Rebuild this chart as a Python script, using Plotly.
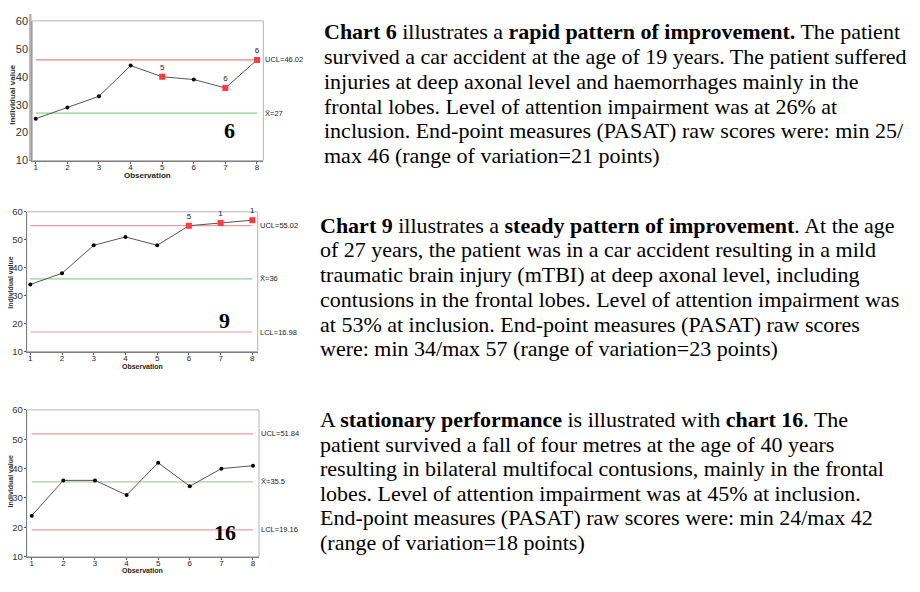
import plotly.graph_objects as go

# page offset of the plot div (browser body margin) and figure size
OFF = 8
W, H = 920 - 2 * OFF, 592 - 2 * OFF

# ---------------- data ----------------
observations = [1, 2, 3, 4, 5, 6, 7, 8]

c6_values = [25, 29, 33, 44, 40, 39, 36, 46]
c6_flags = [None, None, None, None, "5", None, "6", "6"]
c6_ucl, c6_mean, c6_lcl = 46.02, 27, None
c6_labels = ["UCL=46.02", "X\u0304=27", None]
c6_number = "6"

c9_values = [34, 38, 48, 51, 48, 55, 56, 57]
c9_flags = [None, None, None, None, None, "5", "1", "1"]
c9_ucl, c9_mean, c9_lcl = 55.02, 36, 16.98
c9_labels = ["UCL=55.02", "X\u0304=36", "LCL=16.98"]
c9_number = "9"

c16_values = [24, 36, 36, 31, 42, 34, 40, 41]
c16_flags = [None] * 8
c16_ucl, c16_mean, c16_lcl = 51.84, 35.5, 19.16
c16_labels = ["UCL=51.84", "X\u0304=35.5", "LCL=19.16"]
c16_number = "16"

y_ticks = [10, 20, 30, 40, 50, 60]

text6 = [
    "<b>Chart 6</b> illustrates a <b>rapid pattern of improvement.</b> The patient",
    "survived a car accident at the age of 19 years. The patient suffered",
    "injuries at deep axonal level and haemorrhages mainly in the",
    "frontal lobes. Level of attention impairment was at 26% at",
    "inclusion. End-point measures (PASAT) raw scores were: min 25/",
    "max 46 (range of variation=21 points)",
]
text9 = [
    "<b>Chart 9</b> illustrates a <b>steady pattern of improvement</b>. At the age",
    "of 27 years, the patient was in a car accident resulting in a mild",
    "traumatic brain injury (mTBI) at deep axonal level, including",
    "contusions in the frontal lobes. Level of attention impairment was",
    "at 53% at inclusion. End-point measures (PASAT) raw scores",
    "were: min 34/max 57 (range of variation=23 points)",
]
text16 = [
    "A <b>stationary performance</b> is illustrated with <b>chart 16</b>. The",
    "patient survived a fall of four metres at the age of 40 years",
    "resulting in bilateral multifocal contusions, mainly in the frontal",
    "lobes. Level of attention impairment was at 45% at inclusion.",
    "End-point measures (PASAT) raw scores were: min 24/max 42",
    "(range of variation=18 points)",
]

# ---------------- layout helpers (page pixels -> paper) ----------------
def px_x(x):
    return (x - OFF) / W

def px_y(y):
    return 1 - (y - OFF) / H

charts = [
    dict(values=c6_values, flags=c6_flags, ucl=c6_ucl, mean=c6_mean, lcl=c6_lcl,
         labels=c6_labels, number=c6_number,
         box=(32.3, 263.3, 15.0, 157.7), xr=[0.89, 8.2], tickfs=11, titlefs=8,
         ylab=(12.5, 90), obs_y=172.7, mean_color="#86d686", ucl_color="#f08282",
         num_pos=(0.852, 0.215)),
    dict(values=c9_values, flags=c9_flags, ucl=c9_ucl, mean=c9_mean, lcl=c9_lcl,
         labels=c9_labels, number=c9_number,
         box=(26.7, 257.7, 210.0, 352.7), xr=[0.886, 8.17], tickfs=9.5, titlefs=7,
         ylab=(10.5, 282), obs_y=368.3, mean_color="#8ad88a", ucl_color="#f29a9a",
         num_pos=(0.858, 0.222)),
    dict(values=c16_values, flags=c16_flags, ucl=c16_ucl, mean=c16_mean, lcl=c16_lcl,
         labels=c16_labels, number=c16_number,
         box=(26.7, 259.0, 412.3, 562.3), xr=[0.84, 8.19], tickfs=9.5, titlefs=7,
         ylab=(10.5, 485), obs_y=576.7, mean_color="#a9cfa0", ucl_color="#f29a9a",
         num_pos=(0.854, 0.164)),
]

fig = go.Figure()
annotations = []
shapes = []

for i, c in enumerate(charts, start=1):
    xa = "x" if i == 1 else f"x{i}"
    ya = "y" if i == 1 else f"y{i}"
    xl, xr_, yt, yb = c["box"]

    # control lines
    for val, col in ((c["ucl"], c["ucl_color"]), (c["mean"], c["mean_color"]),
                     (c["lcl"], c["ucl_color"])):
        if val is None:
            continue
        fig.add_trace(go.Scatter(x=[observations[0], observations[-1]], y=[val, val],
                                 mode="lines", line=dict(color=col, width=1.2),
                                 xaxis=xa, yaxis=ya, hoverinfo="skip", showlegend=False))
    # data line
    fig.add_trace(go.Scatter(x=observations, y=c["values"], mode="lines+markers",
                             line=dict(color="#555555", width=1),
                             marker=dict(color="black", size=4),
                             xaxis=xa, yaxis=ya, showlegend=False))
    # flagged points
    fx = [o for o, f in zip(observations, c["flags"]) if f]
    fy = [v for v, f in zip(c["values"], c["flags"]) if f]
    ft = [f for f in c["flags"] if f]
    if fx:
        fig.add_trace(go.Scatter(x=fx, y=fy, mode="markers+text", text=ft,
                                 textposition="top center", cliponaxis=False,
                                 textfont=dict(family="Liberation Sans", size=8, color="#222"),
                                 marker=dict(color="#ff3b3b", size=6, symbol="square"),
                                 xaxis=xa, yaxis=ya, showlegend=False))

    axis_common = dict(showgrid=False, zeroline=False, showline=True, linecolor="#7d7d7d",
                       linewidth=1, mirror=False, ticks="outside", ticklen=2,
                       tickcolor="#555", fixedrange=True)
    fig.update_layout(**{
        ("xaxis" if i == 1 else f"xaxis{i}"): dict(
            axis_common, domain=[px_x(xl), px_x(xr_)], range=c["xr"],
            tickvals=observations, anchor=ya, ticklabelstandoff=-3,
            tickfont=dict(family="Liberation Sans", size=8, color="#222")),
        ("yaxis" if i == 1 else f"yaxis{i}"): dict(
            axis_common, domain=[px_y(yb), px_y(yt)], range=[10, 60],
            tickvals=y_ticks, anchor=xa, ticklabelstandoff=-1,
            tickfont=dict(family="Liberation Sans", size=c["tickfs"], color="#333")),
    })

    # light frame (top / right)
    shapes.append(dict(type="rect", xref=f"{xa} domain", yref=f"{ya} domain",
                       x0=0, x1=1, y0=0, y1=1, layer="below",
                       line=dict(color="#b4b4b4", width=1)))

    # right-side control labels
    for val, lab in zip((c["ucl"], c["mean"], c["lcl"]), c["labels"]):
        if val is None or lab is None:
            continue
        annotations.append(dict(x=1, xref=f"{xa} domain", y=val, yref=ya, text=lab,
                                showarrow=False, xanchor="left", yanchor="middle", xshift=0,
                                font=dict(family="Liberation Sans", size=7.5, color="#222")))
    # big chart number
    annotations.append(dict(x=c["num_pos"][0], xref=f"{xa} domain", y=c["num_pos"][1],
                            yref=f"{ya} domain", text=f"<b>{c['number']}</b>", showarrow=False,
                            xanchor="center", yanchor="middle",
                            font=dict(family="Liberation Serif", size=22, color="black")))
    # axis titles
    annotations.append(dict(x=0.5, xref=f"{xa} domain", y=px_y(c["obs_y"]), yref="paper",
                            text="<b>Observation</b>", showarrow=False,
                            xanchor="center", yanchor="middle",
                            font=dict(family="Liberation Sans", size=c["titlefs"], color="#222")))
    annotations.append(dict(x=px_x(c["ylab"][0]), xref="paper", y=px_y(c["ylab"][1]),
                            yref="paper", text="<b>Individual value</b>", showarrow=False,
                            textangle=-90, xanchor="center", yanchor="middle", borderpad=0,
                            font=dict(family="Liberation Sans", size=c["titlefs"], color="#333")))

# thick grey left edge of first chart frame
shapes.append(dict(type="line", xref="paper", yref="paper", x0=px_x(30.3), x1=px_x(30.3),
                   y0=1.0, y1=px_y(157.7), line=dict(color="#b5b5b5", width=2.5)))

# descriptive text blocks: (lines, left x, first baseline y, line step)
blocks = [
    (text6, 323.0, 33.3, 25.4),
    (text9, 318.5, 231.0, 25.3),
    (text16, 318.5, 430.0, 25.0),
]
fs = 22
for lines, x0, base0, step in blocks:
    for k, line in enumerate(lines):
        base = base0 + k * step
        annotations.append(dict(x=px_x(x0), xref="paper", y=px_y(base - 0.34 * fs), yref="paper",
                                text=line, showarrow=False, xanchor="left", yanchor="middle",
                                align="left", borderpad=0,
                                font=dict(family="Liberation Serif", size=fs, color="black")))

fig.update_layout(width=W, height=H, margin=dict(l=0, r=0, t=0, b=0),
                  paper_bgcolor="white", plot_bgcolor="white",
                  annotations=annotations, shapes=shapes, showlegend=False)

fig.write_html("out.html")
